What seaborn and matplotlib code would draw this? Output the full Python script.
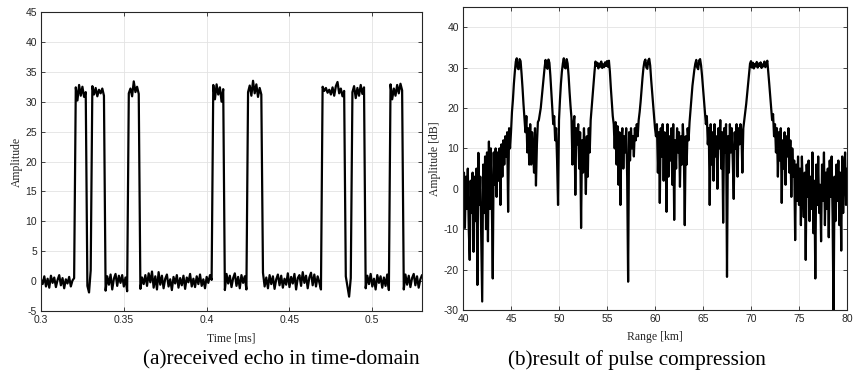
import numpy as np
import pandas as pd
import matplotlib
matplotlib.use("Agg")
import matplotlib.pyplot as plt
import seaborn as sns

# ---------------- (a) received echo, sampled every 1 us from 0.300 ms ----------------
echo_t0 = 0.300
echo_dt = 0.001
echo_amp_a = [
    0.3, -0.5, 0.8, -0.9, 0.4, -1.1, 0.9, -0.3, 0.6, -1.0, 0.2, 1.0, -0.7, 0.5, -1.2, 0.3, -0.4, 0.7, -0.9, 0.1, 0.5,
    32.4, 30.2, 32.8, 31.0, 32.5, 30.8, 31.6,
    -0.8, -1.9, 1.8,
    32.6, 31.2, 32.3, 30.9, 32.0, 31.4, 32.2, 31.0,
    -1.6, 0.8, -0.6, 1.1, -1.4, 0.4, 1.2, -0.8, 0.9, -0.3, 1.0, -0.9, 0.6, -1.7,
    31.4, 32.2, 30.9, 33.4, 31.6, 32.5, 31.3,
]
echo_amp_b = [
    -1.3, 0.6, -0.5, 1.0, -0.8, 1.3, -0.2, 1.6, -1.1, 0.8, -1.4, 1.5, -0.6, 0.9, -1.2, 0.4, 1.1, -0.9, 0.3, -1.5,
    0.7, -0.4, 1.0, -1.1, 0.5, -0.7, 0.9, -1.3, 0.6, -0.2, 1.2, -0.9, 0.4, -1.0, 0.8, -0.5, 1.1, -0.8, 0.3, -1.2,
    0.7, -0.3, 1.0, 0.2,
    32.8, 30.4, 32.9, 31.2, 32.4, 30.0, 32.1,
    -1.5, 1.2, -0.4, 0.9, -1.0, 0.5, 1.3, -0.8, 0.7, -1.2, 1.0, -0.3, 0.8, -1.4,
    31.6, 32.7, 31.0, 33.5, 31.4, 32.9, 30.8, 32.3, 31.2,
]
echo_amp_c = [
    1.4, -0.9, 0.6, -1.2, 1.0, -0.5, 0.8, -1.3, 0.3, 1.1, -0.7, 0.9, -1.1, 0.4, -0.6, 1.3, -1.0, 0.7, -0.4, 1.2,
    -1.4, 0.5, 1.0, -0.8, 1.5, -0.3, 0.9, -1.2, 0.6, 1.4, -0.7, 1.1, -0.9, 0.8, -0.2, -1.4,
    32.5, 31.8, 32.3, 31.5, 32.0, 31.2, 32.4, 31.0, 32.6, 33.3, 31.4, 32.2, 30.9, 31.8,
    0.8, -0.9, -2.6, 0.5,
    31.6, 32.6, 30.6, 32.3, 31.0, 32.8, 31.3, 32.4,
    -1.2, 0.9, -0.5, 1.2, -0.9, 0.4, -1.4, 1.0, -0.3, 0.8, -1.1, 0.6, -0.8, 1.1, -1.5,
    32.9, 30.4, 32.2, 31.0, 32.8, 31.4, 33.0, 31.9,
    -1.4, 1.1, -0.6, 0.9, -1.0, 0.5, 1.2, -0.7, 0.8, -1.1, 0.3, 1.0,
]

# ---------------- (b) pulse-compression output, every 0.1 km from 40 km ----------------
range_km0 = 40.0
range_dkm = 0.1
db_40_50 = [
    -1, 4, -9.7, 3, -5, 5, -10, -17.6, 2, -6,
    4, -15.6, 3, -8, 5, -23.8, 8.9, -4, 3, -12,
    -27.9, 6, -6, 8, -10, 9, -13, 11.7, -5, 10,
    -3, -22.2, 9, 1, 10, -2, 9, 2, 10, -4,
    11, 3, 12, 6, 13, 8, 14, -5.7, 15, 10,
    14, 19, 22, 26, 29, 31.5, 32.3, 29.8, 29.6, 32.1,
    31.6, 28.5, 25, 21, 17.5, 14, 18, 9, 15, 6,
    16, 6, 14, 10, 4, 15, 0.8, 11, 16.5, 17,
    18.5, 20, 22.5, 25, 27.5, 30, 31.9, 30.0, 29.7, 32.0,
    31.2, 28, 24, 20, 16, 18, 12, 15, 7, -4,
]
db_50_60 = [
    17, 22, 26, 29, 31, 32.3, 30, 29.8, 32.1, 31,
    28, 24, 20.5, 17.5, 6, 16, 18, -1.5, 15, 11,
    16, 5, 14, -9.7, 12, 4, 15, 8, -1.3, 13,
    3, 15, 9, 17, 20, 23, 26, 29, 31.5, 30.4,
    31.2, 29.8, 31.0, 30.2, 31.5, 29.9, 30.8, 30.1, 31.3, 30.4,
    31.6, 30.2, 31.7, 29, 25, 21.5, 18, 16, 10, 16.5,
    6, 15.5, 1, 14, -4, 12, 15, 5, 13, 9,
    15, 3, -23, 14, 7, 15, 10, 13, 8, 15,
    12, 16, 13, 17, 19, 21.5, 24.5, 27.5, 30, 31.5,
    32, 30, 29.7, 31.8, 32.2, 30.5, 27, 24, 21, 18,
]
db_60_70 = [
    15, 13, 16, 4, 14, -3.5, 15, 8, 16, 2,
    14, 10, -5.7, 16, 3, 13, 7, 15, 1, 16,
    -7.7, 12, 5, 15, 9, 14, 0.5, 13, 6, 16,
    10, -9, 13, 6, 15, 12, 16.5, 19.5, 22.5, 25.5,
    27.5, 29.5, 31.0, 31.9, 30.0, 29.6, 31.8, 32.1, 30.5, 28,
    25, 22, 19, 16, 18, 11, 15, -4, 16, 6,
    14, 2, 16, 8, 13, 0, 15, 10, 17, 5,
    14, -8.4, 15, 9, 16, -21.8, 13, 4, 16, 9,
    15, 7, -2.5, 14, 10, 16, 3, 15, 11, 16,
    14, 4, 15, 17, 19, 21, 23.5, 26, 28.5, 31,
]
db_70_80 = [
    31.6, 30.0, 31.2, 29.8, 30.9, 30.3, 31.4, 30.0, 31.0, 30.4,
    31.3, 29.9, 30.8, 30.3, 31.5, 30.1, 31.0, 31.7, 29, 26,
    23, 20, 17, 18.5, 13, 16, 9, 15, 3, 14,
    7, 15, -3.5, 12, 5, 14, 1, 13, 8, 15,
    4, 12, -2, 10, 3, 7, -12.7, 6, -3, 8,
    -4, 5, -9, 8, 0, -7, 4, -17.6, 6, -2,
    7, -8, 3, -5, 9, -11, 2, -22.2, 6, -4,
    8, -6, 1, -13, 6, -3, 9, -9, 4, -5,
    5, -12, 7, -2, 8, -7, -33, 3, -8, 6,
    -3, 7, -9, 4, -15.3, 8, -6, 3, 9, -4,
    5,
]

echo_amp = np.array(echo_amp_a + echo_amp_b + echo_amp_c, dtype=float)
echo_time = np.round(echo_t0 + echo_dt * np.arange(echo_amp.size), 4)
comp_db = np.array(db_40_50 + db_50_60 + db_60_70 + db_70_80, dtype=float)
comp_range = np.round(range_km0 + range_dkm * np.arange(comp_db.size), 2)

echo_df = pd.DataFrame({"Time [ms]": echo_time, "Amplitude": echo_amp})
comp_df = pd.DataFrame({"Range [km]": comp_range, "Amplitude [dB]": comp_db})

sns.set_style("ticks")
plt.rcParams["font.family"] = ["Liberation Sans", "DejaVu Sans"]
plt.rcParams["axes.unicode_minus"] = False

fig = plt.figure(figsize=(8.54, 3.77), dpi=100)
W, H = 854.0, 377.0
ax1 = fig.add_axes([41 / W, 1 - 311 / H, (422 - 41) / W, (311 - 12) / H])
ax2 = fig.add_axes([463 / W, 1 - 310 / H, (847 - 463) / W, (310 - 7) / H])

line_kw = dict(color="black", linewidth=1.6, estimator=None, sort=False)
sns.lineplot(data=echo_df, x="Time [ms]", y="Amplitude", ax=ax1, **line_kw)
sns.lineplot(data=comp_df, x="Range [km]", y="Amplitude [dB]", ax=ax2, **line_kw)

serif = ["Liberation Serif", "DejaVu Serif"]
ink = "#262626"


def style_axes(ax, xlim, ylim, xticks, yticks, xticklabels, xlabel, ylabel):
    ax.set_xlim(*xlim)
    ax.set_ylim(*ylim)
    ax.set_xticks(xticks)
    ax.set_xticklabels(xticklabels)
    ax.set_yticks(yticks)
    ax.grid(True, color="#e3e3e3", linewidth=0.6)
    ax.set_axisbelow(True)
    ax.tick_params(direction="in", top=True, right=True, length=3, width=0.6,
                   labelsize=7.5, colors=ink, pad=3)
    for sp in ax.spines.values():
        sp.set_visible(True)
        sp.set_color(ink)
        sp.set_linewidth(0.8)
    ax.set_xlabel(xlabel, family=serif, fontsize=8.5, color=ink, labelpad=5)
    ax.set_ylabel(ylabel, family=serif, fontsize=8.5, color=ink, labelpad=2)


style_axes(ax1, (0.3, 0.53), (-5, 45),
           [0.3, 0.35, 0.4, 0.45, 0.5], np.arange(-5, 46, 5),
           ["0.3", "0.35", "0.4", "0.45", "0.5"], "Time [ms]", "Amplitude")
style_axes(ax2, (40, 80), (-30, 45),
           np.arange(40, 81, 5), np.arange(-30, 41, 10),
           [str(v) for v in range(40, 81, 5)], "Range [km]", "Amplitude [dB]")

fig.text(281 / W, 1 - 360 / H, "(a)received echo in time-domain", family=serif,
         fontsize=15.3, color="black", ha="center", va="center")
fig.text(637 / W, 1 - 360 / H, "(b)result of pulse compression", family=serif,
         fontsize=15.3, color="black", ha="center", va="center")

fig.savefig("out.png", dpi=100, facecolor="white")
